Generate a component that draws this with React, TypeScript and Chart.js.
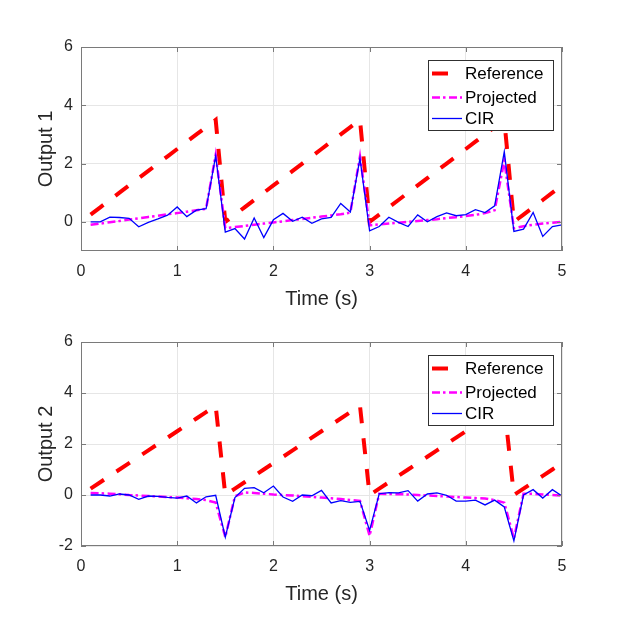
import React, { useEffect, useRef } from 'react';
import { Chart, registerables } from 'chart.js';

Chart.register(...registerables);

const FONT = '"Liberation Sans", Arial, Helvetica, sans-serif';

// time samples (s)
const times = [
  0.1, 0.2, 0.3, 0.4, 0.5, 0.6, 0.7, 0.8, 0.9, 1.0,
  1.1, 1.2, 1.3, 1.4, 1.5, 1.6, 1.7, 1.8, 1.9, 2.0,
  2.1, 2.2, 2.3, 2.4, 2.5, 2.6, 2.7, 2.8, 2.9, 3.0,
  3.1, 3.2, 3.3, 3.4, 3.5, 3.6, 3.7, 3.8, 3.9, 4.0,
  4.1, 4.2, 4.3, 4.4, 4.5, 4.6, 4.7, 4.8, 4.9, 5.0,
];

const reference1 = [
  0.25, 0.5, 0.75, 1.0, 1.25, 1.5, 1.75, 2.0, 2.25, 2.5, 2.75, 3.0, 3.25, 3.5,
  0, 0.25, 0.5, 0.75, 1.0, 1.25, 1.5, 1.75, 2.0, 2.25, 2.5, 2.75, 3.0, 3.25, 3.5,
  0, 0.25, 0.5, 0.75, 1.0, 1.25, 1.5, 1.75, 2.0, 2.25, 2.5, 2.75, 3.0, 3.25, 3.5,
  0, 0.25, 0.5, 0.75, 1.0, 1.25,
];
const projected1 = [
  -0.1, -0.06, -0.01, 0.03, 0.08, 0.12, 0.17, 0.21, 0.26, 0.3, 0.35, 0.4, 0.45, 2.3,
  -0.22, -0.18, -0.14, -0.1, -0.06, -0.02, 0.02, 0.06, 0.1, 0.14, 0.18, 0.22, 0.26, 0.32, 2.25,
  -0.12, -0.09, -0.06, -0.03, 0.0, 0.03, 0.06, 0.09, 0.13, 0.16, 0.2, 0.24, 0.3, 0.4, 2.1,
  -0.22, -0.15, -0.1, -0.06, -0.03, 0.0,
];
const cir1 = [
  0.0, 0.0, 0.16, 0.15, 0.12, -0.17, -0.02, 0.1, 0.23, 0.51, 0.18, 0.4, 0.45, 2.26,
  -0.35, -0.23, -0.59, 0.13, -0.54, 0.07, 0.29, 0.02, 0.16, -0.05, 0.1, 0.15, 0.63, 0.34, 2.18,
  -0.31, -0.16, 0.16, -0.02, -0.16, 0.24, 0.0, 0.18, 0.31, 0.21, 0.25, 0.42, 0.32, 0.55, 2.41,
  -0.33, -0.25, 0.32, -0.5, -0.16, -0.1,
];

const reference2 = [
  0.25, 0.5, 0.75, 1.0, 1.25, 1.5, 1.75, 2.0, 2.25, 2.5, 2.75, 3.0, 3.25, 3.5,
  0, 0.25, 0.5, 0.75, 1.0, 1.25, 1.5, 1.75, 2.0, 2.25, 2.5, 2.75, 3.0, 3.25, 3.5,
  0, 0.25, 0.5, 0.75, 1.0, 1.25, 1.5, 1.75, 2.0, 2.25, 2.5, 2.75, 3.0, 3.25, 3.5,
  0, 0.25, 0.5, 0.75, 1.0, 1.25,
];
const projected2 = [
  0.08, 0.07, 0.05, 0.03, 0.0, -0.02, -0.04, -0.06, -0.08, -0.1, -0.13, -0.16, -0.2, -0.3,
  -1.65, -0.05, 0.1, 0.08, 0.05, 0.02, 0.0, -0.02, -0.05, -0.07, -0.1, -0.13, -0.16, -0.2, -0.23,
  -1.6, 0.05, 0.04, 0.03, 0.02, 0.0, -0.02, -0.04, -0.06, -0.08, -0.1, -0.12, -0.14, -0.2, -0.3,
  -1.7, 0.05, 0.05, 0.02, 0.0, -0.02,
];
const cir2 = [
  0.0, 0.0, -0.04, 0.04, 0.0, -0.17, -0.04, -0.05, -0.09, -0.12, -0.04, -0.31, -0.07, -0.01,
  -1.65, -0.1, 0.26, 0.29, 0.09, 0.35, -0.08, -0.25, 0.0, -0.03, 0.18, -0.31, -0.22, -0.29, -0.25,
  -1.39, 0.05, 0.09, 0.08, 0.17, -0.24, 0.04, 0.08, -0.01, -0.24, -0.24, -0.2, -0.39, -0.2, -0.47,
  -1.8, 0.0, 0.21, -0.12, 0.21, -0.04,
];

const xTicks = [0, 1, 2, 3, 4, 5];
const yTicks1 = [0, 2, 4, 6];
const yTicks2 = [-2, 0, 2, 4, 6];
const seriesNames = ['Reference', 'Projected', 'CIR'];

const lineStyles = [
  { color: '#ff0000', width: 4, dash: [16, 15] },
  { color: '#ff00ff', width: 2.5, dash: [8, 3, 2.5, 3.5] },
  { color: '#0000ff', width: 1.3, dash: [] as number[] },
];

// box, inward ticks and legend like a MATLAB axes
const axesBoxPlugin = {
  id: 'axesBox',
  afterDatasetsDraw(chart: any) {
    const { ctx, chartArea: a, scales } = chart;
    ctx.save();
    ctx.strokeStyle = '#7a7a7a';
    ctx.lineWidth = 1;
    ctx.setLineDash([]);
    ctx.strokeRect(a.left + 0.5, a.top + 0.5, a.right - a.left - 1, a.bottom - a.top - 1);
    const tl = 5;
    ctx.beginPath();
    xTicks.forEach((v) => {
      const px = Math.round(scales.x.getPixelForValue(v)) + 0.5;
      ctx.moveTo(px, a.bottom);
      ctx.lineTo(px, a.bottom - tl);
      ctx.moveTo(px, a.top);
      ctx.lineTo(px, a.top + tl);
    });
    (chart.options.plugins.axesBox.yTicks as number[]).forEach((v) => {
      const py = Math.round(scales.y.getPixelForValue(v)) + 0.5;
      ctx.moveTo(a.left, py);
      ctx.lineTo(a.left + tl, py);
      ctx.moveTo(a.right, py);
      ctx.lineTo(a.right - tl, py);
    });
    ctx.stroke();
    ctx.restore();
  },
  afterDraw(chart: any) {
    const { ctx, chartArea: a } = chart;
    const bx = a.right - 134;
    const by = a.top + 13;
    ctx.save();
    ctx.fillStyle = '#ffffff';
    ctx.fillRect(bx, by, 126, 71);
    ctx.strokeStyle = '#303030';
    ctx.lineWidth = 1;
    ctx.setLineDash([]);
    ctx.strokeRect(bx + 0.5, by + 0.5, 125, 70);
    const rows = [13.5, 37.5, 58.5];
    seriesNames.forEach((name, i) => {
      const s = lineStyles[i];
      const y = by + rows[i];
      ctx.beginPath();
      ctx.strokeStyle = s.color;
      ctx.lineWidth = s.width;
      ctx.setLineDash(s.dash);
      ctx.moveTo(bx + 4, y);
      ctx.lineTo(bx + 34, y);
      ctx.stroke();
      ctx.setLineDash([]);
      ctx.fillStyle = '#000000';
      ctx.font = `17px ${FONT}`;
      ctx.textAlign = 'left';
      ctx.textBaseline = 'middle';
      ctx.fillText(name, bx + 37, y + 1);
    });
    ctx.restore();
  },
};

type PlotProps = {
  top: number;
  yLabel: string;
  yMin: number;
  yTicks: number[];
  series: number[][];
};

const Plot = ({ top, yLabel, yMin, yTicks, series }: PlotProps) => {
  const canvasRef = useRef<HTMLCanvasElement>(null);

  useEffect(() => {
    if (!canvasRef.current) return;
    const chart = new Chart(canvasRef.current, {
      type: 'line',
      data: {
        datasets: series.map((values, i) => ({
          label: seriesNames[i],
          data: times.map((t, k) => ({ x: t, y: values[k] })),
          borderColor: lineStyles[i].color,
          borderWidth: lineStyles[i].width,
          borderDash: lineStyles[i].dash,
          pointRadius: 0,
          tension: 0,
          fill: false,
          order: 3 - i,
        })),
      },
      options: {
        responsive: false,
        animation: false,
        events: [],
        layout: { padding: { top: 47, right: 61, left: 0, bottom: 0 } },
        plugins: {
          legend: { display: false },
          tooltip: { enabled: false },
          axesBox: { yTicks },
        } as any,
        scales: {
          x: {
            type: 'linear',
            min: 0,
            max: 5,
            afterBuildTicks: (s: any) => {
              s.ticks = xTicks.map((v) => ({ value: v }));
            },
            afterFit: (s: any) => {
              s.height = 60;
            },
            grid: { color: '#e6e6e6', drawTicks: false },
            border: { display: false },
            ticks: { padding: 11, color: '#262626', font: { family: FONT, size: 16 } },
            title: {
              display: true,
              text: 'Time (s)',
              color: '#262626',
              font: { family: FONT, size: 20 },
              padding: { top: 0, bottom: 0 },
            },
          },
          y: {
            type: 'linear',
            min: yMin,
            max: 6,
            afterBuildTicks: (s: any) => {
              s.ticks = yTicks.map((v) => ({ value: v }));
            },
            afterFit: (s: any) => {
              s.width = 81;
            },
            grid: { color: '#e6e6e6', drawTicks: false },
            border: { display: false },
            ticks: { padding: 8, color: '#262626', font: { family: FONT, size: 16 } },
            title: {
              display: true,
              text: yLabel,
              color: '#262626',
              font: { family: FONT, size: 20 },
              padding: { top: 34, bottom: 0 },
            },
          },
        },
      },
      plugins: [axesBoxPlugin],
    });
    return () => chart.destroy();
  }, []);

  return (
    <canvas
      ref={canvasRef}
      width={623}
      height={311}
      style={{ position: 'absolute', left: 0, top, width: 623, height: 311 }}
    />
  );
};

export default function App() {
  return (
    <div
      style={{
        position: 'fixed',
        left: 0,
        top: 0,
        width: 623,
        height: 622,
        background: '#ffffff',
      }}
    >
      <Plot top={0} yLabel="Output 1" yMin={-1} yTicks={yTicks1} series={[reference1, projected1, cir1]} />
      <Plot top={295} yLabel="Output 2" yMin={-2} yTicks={yTicks2} series={[reference2, projected2, cir2]} />
    </div>
  );
}
